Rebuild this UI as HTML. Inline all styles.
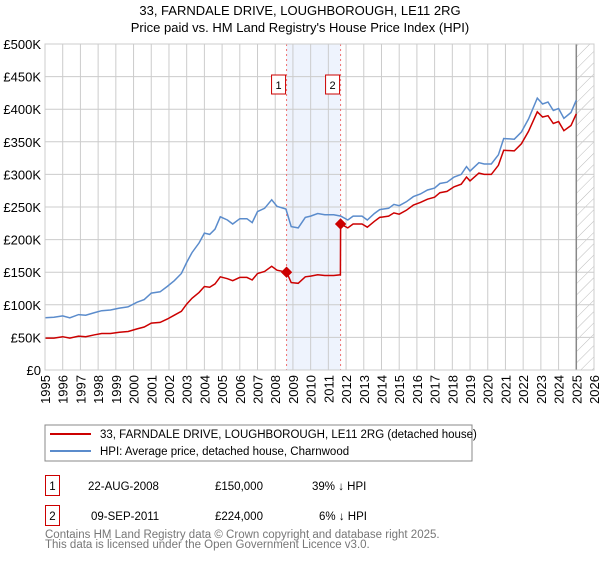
<!DOCTYPE html>
<html><head><meta charset="utf-8"><style>
body{margin:0;background:#fff;font-family:"Liberation Sans",sans-serif;}
svg text{font-family:"Liberation Sans",sans-serif;}
</style></head><body>
<svg id="chart" width="600" height="560" xmlns="http://www.w3.org/2000/svg">
<defs><pattern id="hatch" patternUnits="userSpaceOnUse" width="8" height="8" patternTransform="rotate(45)"><line x1="0" y1="0" x2="0" y2="8" stroke="#bbb" stroke-width="1"/></pattern></defs>
<text x="300" y="15" text-anchor="middle" font-size="13">33, FARNDALE DRIVE, LOUGHBOROUGH, LE11 2RG</text>
<text x="300" y="32" text-anchor="middle" font-size="13">Price paid vs. HM Land Registry's House Price Index (HPI)</text>
<g id="plot"></g>
<g>
<rect x="45" y="425" width="427" height="36" fill="#fff" stroke="#888"/>
<line x1="50" y1="434" x2="91" y2="434" stroke="#cc0000" stroke-width="2"/>
<text x="100" y="438" font-size="11.5">33, FARNDALE DRIVE, LOUGHBOROUGH, LE11 2RG (detached house)</text>
<line x1="50" y1="451" x2="91" y2="451" stroke="#5b8ccc" stroke-width="2"/>
<text x="100" y="455" font-size="11.5">HPI: Average price, detached house, Charnwood</text>
</g>
<g font-size="11.5">
<rect x="45.5" y="475.5" width="14" height="20" fill="#fff" stroke="#cc0000"/>
<text x="52.5" y="490" text-anchor="middle">1</text>
<text x="88" y="490">22-AUG-2008</text><text x="215" y="490">£150,000</text><text x="312" y="490">39% ↓ HPI</text>
<rect x="45.5" y="505.5" width="14" height="20" fill="#fff" stroke="#cc0000"/>
<text x="52.5" y="520" text-anchor="middle">2</text>
<text x="91" y="520">09-SEP-2011</text><text x="215" y="520">£224,000</text><text x="319" y="520">6% ↓ HPI</text>
</g>
<text x="45" y="538" font-size="11.5" fill="#777">Contains HM Land Registry data © Crown copyright and database right 2025.</text>
<text x="45" y="548" font-size="11.5" fill="#777">This data is licensed under the Open Government Licence v3.0.</text>
</svg>
<script>
const yTicks=[0,50,100,150,200,250,300,350,400,450,500];
const yTickLabels=["£0","£50K","£100K","£150K","£200K","£250K","£300K","£350K","£400K","£450K","£500K"];
const xTicks=[1995,1996,1997,1998,1999,2000,2001,2002,2003,2004,2005,2006,2007,2008,2009,2010,2011,2012,2013,2014,2015,2016,2017,2018,2019,2020,2021,2022,2023,2024,2025,2026];
const hpiYears=[1995.0,1995.5,1996.0,1996.4,1996.9,1997.3,1997.8,1998.2,1998.7,1999.2,1999.7,2000.2,2000.6,2001.0,2001.5,2001.9,2002.3,2002.7,2003.0,2003.3,2003.7,2004.0,2004.3,2004.6,2004.9,2005.3,2005.6,2006.0,2006.4,2006.7,2007.0,2007.4,2007.8,2008.1,2008.6,2008.9,2009.3,2009.7,2010.0,2010.4,2010.8,2011.3,2011.7,2012.1,2012.4,2012.9,2013.2,2013.6,2013.9,2014.4,2014.7,2015.0,2015.4,2015.8,2016.2,2016.6,2017.0,2017.3,2017.7,2018.1,2018.5,2018.8,2019.0,2019.5,2019.8,2020.2,2020.6,2020.9,2021.5,2021.9,2022.3,2022.8,2023.1,2023.4,2023.7,2024.0,2024.3,2024.7,2025.0];
const hpiValues=[80,81,83,80,85,84,88,91,92,95,97,104,108,118,120,128,137,148,165,180,195,210,208,216,235,230,224,232,232,226,243,248,261,251,247,220,218,234,236,240,238,238,236,230,236,236,230,240,246,248,254,252,258,266,270,276,279,286,288,296,300,312,305,318,316,316,330,355,354,365,385,417,408,411,398,401,386,395,414];
const priceYears=[1995.0,1995.5,1996.0,1996.4,1996.9,1997.3,1997.8,1998.2,1998.7,1999.2,1999.7,2000.2,2000.6,2001.0,2001.5,2001.9,2002.3,2002.7,2003.0,2003.3,2003.7,2004.0,2004.3,2004.6,2004.9,2005.3,2005.6,2006.0,2006.4,2006.7,2007.0,2007.4,2007.8,2008.1,2008.64,2008.9,2009.3,2009.7,2010.0,2010.4,2010.8,2011.3,2011.68,2011.69,2012.1,2012.4,2012.9,2013.2,2013.6,2013.9,2014.4,2014.7,2015.0,2015.4,2015.8,2016.2,2016.6,2017.0,2017.3,2017.7,2018.1,2018.5,2018.8,2019.0,2019.5,2019.8,2020.2,2020.6,2020.9,2021.5,2021.9,2022.3,2022.8,2023.1,2023.4,2023.7,2024.0,2024.3,2024.7,2025.0];
const priceValues=[49,49,51,49,52,51,54,56,56,58,59,63,66,72,73,78,84,90,101,110,119,128,127,132,143,140,137,142,142,138,148,151,159,153,150,134,133,143,144,146,145,145,146,224,218,224,224,219,228,234,236,241,239,245,253,257,262,265,272,274,281,285,296,290,302,300,300,314,337,336,347,366,396,388,390,378,381,367,375,393];
const saleYears=[2008.64,2011.69];
const saleValues=[150,224];
const saleLabels=["1","2"];
const hatchStart=2025.0;

const X0=45,X1=594,Y0=370,Y1=44;
const xs=y=>X0+(y-1995)*(X1-X0)/31;
const ys=v=>Y0-v*(Y0-Y1)/500;
const NS="http://www.w3.org/2000/svg";
const g=document.getElementById('plot');
function mk(t,a){const e=document.createElementNS(NS,t);for(const k in a)e.setAttribute(k,a[k]);g.appendChild(e);return e;}

let e=mk('rect',{x:xs(saleYears[0]),y:Y1,width:xs(saleYears[1])-xs(saleYears[0]),height:Y0-Y1,fill:'#eef3fd'});


e=mk('rect',{x:xs(hatchStart),y:Y1,width:X1-xs(hatchStart),height:Y0-Y1,fill:'url(#hatch)'});


yTicks.forEach((v,i)=>{
  let l=mk('line',{x1:X0,x2:X1,y1:ys(v),y2:ys(v),stroke:'#ccc'});
  
  
  let t=mk('text',{x:X0-4,y:ys(v)+5,'text-anchor':'end','font-size':13});
  
  
  t.textContent=yTickLabels[i];
});
xTicks.forEach(yr=>{
  let l=mk('line',{x1:xs(yr),x2:xs(yr),y1:Y1,y2:Y0,stroke:'#ccc'});
  
  
  let t=mk('text',{x:0,y:0,'text-anchor':'end','font-size':13,transform:`translate(${xs(yr)+5},${Y0+5}) rotate(-90)`});
  
  
  t.textContent=yr;
});
e=mk('line',{x1:xs(hatchStart),x2:xs(hatchStart),y1:Y1,y2:Y0,stroke:'#888','stroke-width':1.5});


saleYears.forEach((yr,i)=>{
  let l=mk('line',{x1:xs(yr),x2:xs(yr),y1:Y1,y2:Y0,stroke:'#f07070','stroke-dasharray':'2,3'});
  
  
});
function path(xv,yv,col,name){
  let d=xv.map((x,i)=>(i?'L':'M')+xs(x).toFixed(1)+','+ys(yv[i]).toFixed(1)).join('');
  let p=mk('path',{d:d,fill:'none',stroke:col,'stroke-width':1.5});
  
  
}
path(hpiYears,hpiValues,'#5b8ccc','hpi-line');
path(priceYears,priceValues,'#cc0000','price-paid-line');
saleYears.forEach((yr,i)=>{
  let c=mk('rect',{x:xs(yr)-4,y:ys(saleValues[i])-4,width:8,height:8,fill:'#cc0000',transform:`rotate(45 ${xs(yr)} ${ys(saleValues[i])})`});
  
  
  let b=mk('rect',{x:xs(yr)-15,y:75,width:14,height:19,fill:'#fff',stroke:'#cc0000'});
  
  
  let t=mk('text',{x:xs(yr)-8,y:89,'text-anchor':'middle','font-size':11});
  
  
  t.textContent=saleLabels[i];
});
e=mk('rect',{x:X0,y:Y1,width:X1-X0,height:Y0-Y1,fill:'none',stroke:'#ccc'});


</script>
</body></html>
